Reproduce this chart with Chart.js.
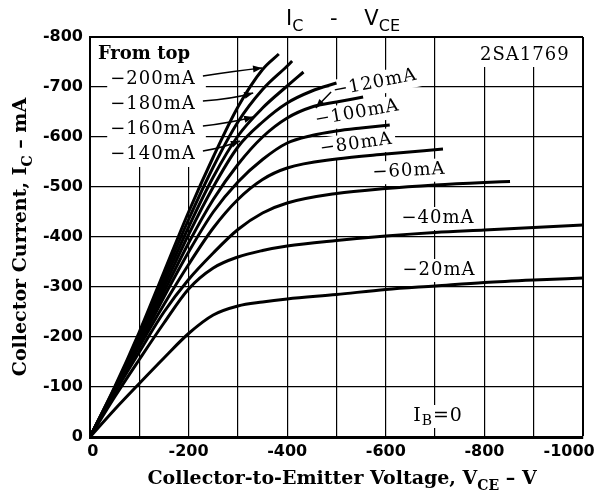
<!DOCTYPE html>
<html>
<head>
<meta charset="utf-8">
<script src="https://cdn.jsdelivr.net/npm/chart.js@4.4.0/dist/chart.umd.min.js"></script>
<style>
  html, body { margin: 0; padding: 0; background: #fff; }
  canvas { display: block; }
</style>
</head>
<body>
<canvas id="icChart" width="597" height="496"></canvas>
<script>
// IC - VCE family of the 2SA1769
const baseCurrents = ['-200mA', '-180mA', '-160mA', '-140mA', '-120mA', '-100mA', '-80mA', '-60mA', '-40mA', '-20mA'];

// collector-emitter voltage (V) and collector current (mA) per base current
const vce200 = [0, -50, -100, -150, -200, -250, -300, -350, -383];
const ic200  = [0, -100, -210, -330, -450, -560, -660, -735, -766];
const vce180 = [0, -50, -100, -150, -200, -250, -300, -350, -400, -410];
const ic180  = [0, -98, -205, -320, -435, -540, -630, -695, -742, -752];
const vce160 = [0, -50, -100, -150, -200, -250, -300, -350, -400, -433];
const ic160  = [0, -97, -200, -310, -420, -520, -602, -658, -702, -730];
const vce140 = [0, -50, -100, -150, -200, -250, -300, -350, -400, -450, -500];
const ic140  = [0, -96, -195, -300, -405, -500, -580, -630, -668, -692, -708];
const vce120 = [0, -50, -100, -150, -200, -250, -300, -350, -400, -450, -500, -554];
const ic120  = [0, -95, -190, -290, -388, -475, -545, -600, -638, -660, -670, -680];
const vce100 = [0, -50, -100, -150, -200, -250, -300, -350, -400, -450, -500, -550, -608];
const ic100  = [0, -94, -185, -280, -370, -450, -510, -555, -588, -603, -612, -618, -624];
const vce80  = [0, -50, -100, -150, -200, -250, -300, -350, -400, -500, -600, -716];
const ic80   = [0, -92, -180, -265, -345, -418, -475, -515, -538, -556, -566, -576];
const vce60  = [0, -50, -100, -150, -200, -250, -300, -350, -400, -500, -600, -700, -800, -852];
const ic60   = [0, -88, -170, -250, -315, -368, -415, -448, -468, -487, -497, -504, -509, -511];
const vce40  = [0, -50, -100, -150, -200, -250, -300, -350, -400, -500, -600, -700, -800, -900, -1000];
const ic40   = [0, -80, -155, -228, -296, -338, -360, -373, -382, -393, -402, -409, -414, -419, -424];
const vce20  = [0, -50, -100, -150, -200, -250, -300, -350, -400, -500, -600, -700, -800, -900, -1000];
const ic20   = [0, -55, -107, -158, -207, -244, -262, -270, -276, -285, -295, -302, -309, -314, -318];

const vceSets = [vce200, vce180, vce160, vce140, vce120, vce100, vce80, vce60, vce40, vce20];
const icSets  = [ic200, ic180, ic160, ic140, ic120, ic100, ic80, ic60, ic40, ic20];

// axis ranges and ticks
const vceMin = -1000, vceMax = 0, vceStep = 100;
const icMin = -800, icMax = 0, icStep = 100;

// text written on the plot, anchored in data units
const notes = [
  { parts: [['From top']], v: -16, i: -766, align: 'left', bold: true, spacing: 0 },
  { parts: [['\u2212200mA']], v: -41, i: -716, align: 'left' },
  { parts: [['\u2212180mA']], v: -41, i: -666, align: 'left' },
  { parts: [['\u2212160mA']], v: -41, i: -616, align: 'left' },
  { parts: [['\u2212140mA']], v: -41, i: -566, align: 'left' },
  { parts: [['2SA1769']], v: -882, i: -764, align: 'center' },
  { parts: [['\u2212120mA']], v: -578, i: -708, align: 'center', rot: -11 },
  { parts: [['\u2212100mA']], v: -542, i: -648, align: 'center', rot: -10 },
  { parts: [['\u221280mA']], v: -540, i: -586, align: 'center', rot: -8 },
  { parts: [['\u221260mA']], v: -647, i: -532, align: 'center', rot: -3 },
  { parts: [['\u221240mA']], v: -706, i: -438, align: 'center' },
  { parts: [['\u221220mA']], v: -708, i: -334, align: 'center' },
  { parts: [['I'], ['B', true], ['=0']], v: -706, i: -42, align: 'center', size: 19 }
];

// white areas behind the label blocks (v1, i1, v2, i2)
const blanks = [
  [-12, -798, -235, -740],
  [-37, -740, -235, -540],
  [-789, -798, -975, -744]
];

// leader lines from the labels to their curves: start, control, arrow tip
const leaders = [
  [[-229, -722], [-294, -732], [-349, -738]],
  [[-229, -672], [-288, -676], [-331, -688]],
  [[-229, -622], [-284, -628], [-331, -640]],
  [[-229, -572], [-268, -578], [-304, -592]],
  [[-489, -690], [-475, -676], [-458, -658]]
];

const serif = '"DejaVu Serif", serif';
const sans = '"DejaVu Sans", sans-serif';

function drawRich(ctx, parts, x, y, size, family, weight, align, subScale) {
  const subSize = Math.round(size * (subScale || 0.72));
  const widths = parts.map(([t, sub]) => {
    ctx.font = weight + ' ' + (sub ? subSize : size) + 'px ' + family;
    return ctx.measureText(t).width;
  });
  const total = widths.reduce((a, b) => a + b, 0);
  let cx = align === 'center' ? x - total / 2 : (align === 'right' ? x - total : x);
  ctx.textAlign = 'left';
  parts.forEach(([t, sub], k) => {
    ctx.font = weight + ' ' + (sub ? subSize : size) + 'px ' + family;
    ctx.fillText(t, cx, sub ? y + size * 0.3 : y);
    cx += widths[k];
  });
  return total;
}

function richWidth(ctx, parts, size, family, weight) {
  const subSize = Math.round(size * 0.72);
  return parts.reduce((sum, [t, sub]) => {
    ctx.font = weight + ' ' + (sub ? subSize : size) + 'px ' + family;
    return sum + ctx.measureText(t).width;
  }, 0);
}

const notesPlugin = {
  id: 'notes',
  beforeDatasetsDraw(chart) {
    const ctx = chart.ctx;
    const xs = chart.scales.x, ys = chart.scales.y;
    ctx.save();
    ctx.fillStyle = '#fff';
    blanks.forEach(([v1, i1, v2, i2]) => {
      const x1 = xs.getPixelForValue(v1), x2 = xs.getPixelForValue(v2);
      const y1 = ys.getPixelForValue(i1), y2 = ys.getPixelForValue(i2);
      ctx.fillRect(Math.min(x1, x2), Math.min(y1, y2), Math.abs(x2 - x1), Math.abs(y2 - y1));
    });
    ctx.textBaseline = 'middle';
    notes.forEach(n => {
      const weight = n.bold ? 'bold' : 'normal';
      const size = n.size || 18;
      ctx.letterSpacing = (n.spacing === undefined ? 1 : n.spacing) + 'px';
      const x = xs.getPixelForValue(n.v), y = ys.getPixelForValue(n.i);
      const w = richWidth(ctx, n.parts, size, serif, weight);
      ctx.save();
      ctx.translate(x, y);
      ctx.rotate((n.rot || 0) * Math.PI / 180);
      const left = n.align === 'center' ? -w / 2 : 0;
      ctx.fillStyle = '#fff';
      ctx.fillRect(left - 3, -11, w + 6, 23);
      ctx.fillStyle = '#000';
      drawRich(ctx, n.parts, left, 0, size, serif, weight, 'left');
      ctx.restore();
    });
    ctx.restore();
  },
  afterDatasetsDraw(chart) {
    const ctx = chart.ctx;
    const xs = chart.scales.x, ys = chart.scales.y;
    ctx.save();
    ctx.strokeStyle = '#000';
    ctx.fillStyle = '#000';
    ctx.lineWidth = 1.5;
    leaders.forEach(([a, c, b]) => {
      const p0 = [xs.getPixelForValue(a[0]), ys.getPixelForValue(a[1])];
      const p1 = [xs.getPixelForValue(c[0]), ys.getPixelForValue(c[1])];
      const p2 = [xs.getPixelForValue(b[0]), ys.getPixelForValue(b[1])];
      ctx.beginPath();
      ctx.moveTo(p0[0], p0[1]);
      ctx.quadraticCurveTo(p1[0], p1[1], p2[0], p2[1]);
      ctx.stroke();
      const ang = Math.atan2(p2[1] - p1[1], p2[0] - p1[0]);
      ctx.save();
      ctx.translate(p2[0], p2[1]);
      ctx.rotate(ang);
      ctx.beginPath();
      ctx.moveTo(0, 0);
      ctx.lineTo(-9, -3.5);
      ctx.lineTo(-9, 3.5);
      ctx.closePath();
      ctx.fill();
      ctx.restore();
    });

    // chart title and axis titles
    const area = chart.chartArea;
    ctx.fillStyle = '#000';
    ctx.textBaseline = 'alphabetic';
    drawRich(ctx, [['I'], ['C', true], ['    -    '], ['V'], ['CE', true]], 343, 25, 21, sans, 'normal', 'center', 0.76);
    drawRich(ctx, [['Collector-to-Emitter Voltage, V'], ['CE', true], [' \u2013 V']], 342, 484, 19, serif, 'bold', 'center');
    ctx.translate(26, (area.top + area.bottom) / 2);
    ctx.rotate(-Math.PI / 2);
    drawRich(ctx, [['Collector Current, I'], ['C', true], [' \u2013 mA']], 0, 0, 19, serif, 'bold', 'center');
    ctx.restore();
  }
};

const datasets = baseCurrents.map((name, k) => ({
  label: name,
  data: vceSets[k].map((v, j) => ({ x: v, y: icSets[k][j] })),
  borderColor: '#000',
  backgroundColor: '#000',
  borderWidth: 3,
  pointRadius: 0,
  fill: false,
  cubicInterpolationMode: 'monotone'
}));

const tickFont = { family: sans, size: 16, weight: 'bold' };

const ctx = document.getElementById('icChart').getContext('2d');
window.icChart = new Chart(ctx, {
  type: 'line',
  data: { datasets: datasets },
  options: {
    responsive: false,
    animation: false,
    events: [],
    layout: { padding: { top: 37, right: 14, left: 0, bottom: 0 } },
    plugins: {
      legend: { display: false },
      tooltip: { enabled: false }
    },
    scales: {
      x: {
        type: 'linear',
        min: vceMin,
        max: vceMax,
        reverse: true,
        ticks: {
          stepSize: vceStep,
          autoSkip: false,
          maxRotation: 0,
          padding: 5,
          color: '#000',
          font: tickFont,
          // the end labels are nudged inward with spaces, as on the sheet
          callback: v => {
            if (v % 200 !== 0) return '';
            if (v === vceMin) return String(v) + '     ';
            if (v === vceMax) return ' ' + String(v);
            return String(v);
          }
        },
        grid: {
          color: '#000',
          lineWidth: c => (c.tick && c.tick.value === vceMin ? 2 : 1.2),
          drawTicks: false
        },
        border: { color: '#000', width: 3 },
        afterFit: s => { s.height = 59; s.paddingLeft = 0; s.paddingRight = 0; }
      },
      y: {
        type: 'linear',
        min: icMin,
        max: icMax,
        reverse: true,
        ticks: {
          stepSize: icStep,
          padding: 7,
          color: '#000',
          font: tickFont,
          callback: v => String(v)
        },
        grid: {
          color: '#000',
          lineWidth: c => (c.tick && c.tick.value === icMin ? 2 : 1.2),
          drawTicks: false
        },
        border: { color: '#000', width: 2 },
        afterFit: s => { s.width = 90; s.paddingTop = 0; s.paddingBottom = 0; }
      }
    }
  },
  plugins: [notesPlugin]
});
</script>
</body>
</html>
